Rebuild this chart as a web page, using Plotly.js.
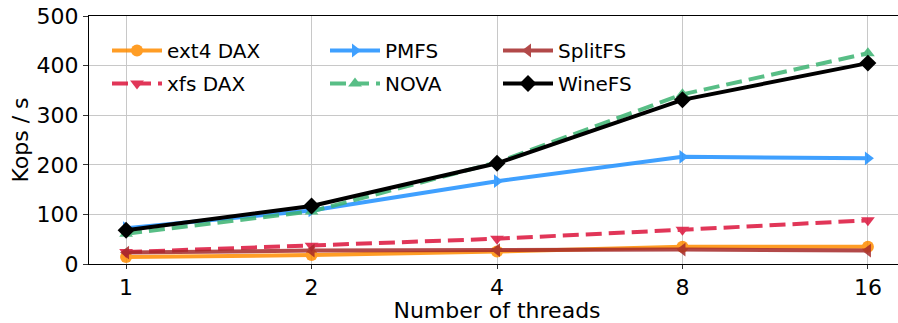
<!DOCTYPE html>
<html>
<head>
<meta charset="utf-8">
<script src="https://cdn.plot.ly/plotly-3.0.1.min.js"></script>
<style>
html, body { margin: 0; padding: 0; overflow: hidden; background: #fff; }
#chart { width: 910px; height: 323px; }
</style>
</head>
<body>
<div id="chart"></div>
<script>
const threads = ["1", "2", "4", "8", "16"];
const ext4Dax = [14, 18, 25, 35, 35];
const xfsDax = [24, 37, 51, 69, 88];
const pmfs = [72, 108, 167, 216, 213];
const nova = [61, 106, 205, 342, 425];
const splitFs = [23, 27, 28, 29, 27];
const wineFs = [68, 117, 203, 331, 405];

const seriesNames = ["ext4 DAX", "xfs DAX", "PMFS", "NOVA", "SplitFS", "WineFS"];
const seriesData = [ext4Dax, xfsDax, pmfs, nova, splitFs, wineFs];
const colors = ["#ff8c00", "#dc143c", "#1e90ff", "#3cb371", "#a52a2a", "#000000"];
const symbols = ["circle", "triangle-down", "triangle-right", "triangle-up", "triangle-left", "diamond"];
const dashes = ["solid", "16px,7px", "solid", "16px,7px", "solid", "solid"];
const legends = ["legend", "legend", "legend2", "legend2", "legend3", "legend3"];
const opac = [0.85, 0.85, 0.85, 0.85, 0.85, 1];

const traces = seriesNames.map((n, i) => ({
  x: threads,
  y: seriesData[i],
  name: n,
  type: "scatter",
  mode: "lines+markers",
  legend: legends[i],
  legendgroup: "g" + i,
  opacity: opac[i],
  line: { color: colors[i], width: 4, dash: dashes[i] },
  marker: { color: colors[i], symbol: symbols[i], size: i === 5 ? 13 : 12 }
}));

const W = 910, H = 323;
const L = 89, R = 5, T = 16, B = 59;
const PW = W - L - R, PH = H - T - B;
const legendFont = { family: "DejaVu Sans", size: 20, color: "#000" };
function leg(xpx) {
  return {
    x: (xpx - L) / PW, xref: "paper", xanchor: "left",
    y: 1 - (31 - T) / PH, yref: "paper", yanchor: "top",
    orientation: "v", bgcolor: "rgba(0,0,0,0)", borderwidth: 0,
    font: legendFont, itemwidth: 50, tracegroupgap: 4
  };
}

const layout = {
  width: W, height: H,
  margin: { l: L, r: R, t: T, b: B },
  paper_bgcolor: "#fff", plot_bgcolor: "#fff",
  font: { family: "DejaVu Sans", size: 22, color: "#000" },
  showlegend: true,
  legend: leg(107),
  legend2: leg(325),
  legend3: leg(498),
  xaxis: {
    type: "category",
    range: [-0.2, 4.2],
    showgrid: true, gridcolor: "#c8c8c8", gridwidth: 1,
    showline: true, linecolor: "#000", linewidth: 1, mirror: true,
    ticks: "outside", ticklen: 4, tickcolor: "#333",
    tickfont: { family: "DejaVu Sans", size: 22, color: "#000" },
    title: { text: "Number of threads", font: { family: "DejaVu Sans", size: 22, color: "#000" }, standoff: 5 },
    zeroline: false
  },
  yaxis: {
    range: [0, 500], dtick: 100,
    showgrid: true, gridcolor: "#c8c8c8", gridwidth: 1,
    showline: true, linecolor: "#000", linewidth: 1, mirror: true,
    ticks: "outside", ticklen: 5, tickcolor: "#333",
    tickfont: { family: "DejaVu Sans", size: 22, color: "#000" },
    title: { text: "Kops / s", font: { family: "DejaVu Sans", size: 22, color: "#000" }, standoff: 1 },
    zeroline: false
  }
};

Plotly.newPlot("chart", traces, layout, { displayModeBar: false, staticPlot: true });
</script>
</body>
</html>
